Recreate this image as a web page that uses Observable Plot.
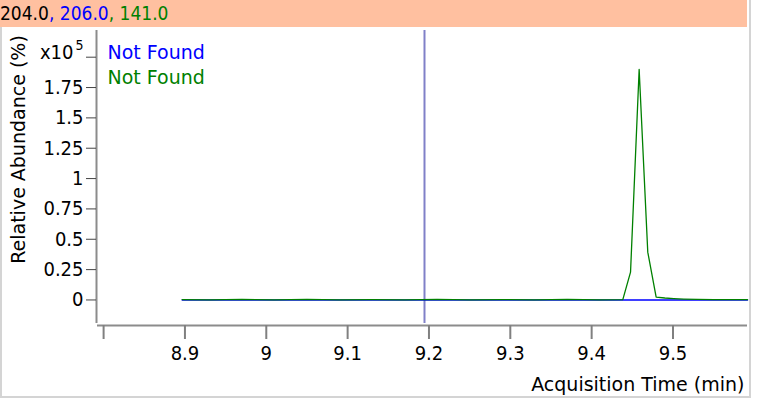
<!DOCTYPE html>
<html>
<head>
<meta charset="utf-8">
<script src="https://cdn.jsdelivr.net/npm/d3@7"></script>
<script src="https://cdn.jsdelivr.net/npm/@observablehq/plot@0.6"></script>
<style>
  body { margin: 0; background: #fff; }
  #wrap { position: relative; width: 759px; height: 399px; overflow: hidden; background: #fff; }
  #border { position: absolute; left: 0; top: 0; width: 747px; height: 396px;
            border-left: 2px solid #d4d4d4; border-right: 2px solid #d4d4d4; border-bottom: 2px solid #d4d4d4; }
  #header { position: absolute; left: 0; top: 0; width: 747px; height: 27px; background: #FFC0A0;
            font-family: 'DejaVu Sans Condensed', 'DejaVu Sans', sans-serif; font-size: 19px; line-height: 27px;
            white-space: pre; z-index: 2; }
  #chart { position: absolute; left: 0; top: 27px; z-index: 1; }
</style>
</head>
<body>
<div id="wrap">
  <div id="border"></div>
  <div id="header"></div>
  <div id="chart"></div>
</div>
<script>
// ---- data ----
const headerParts = ["204.0", ", 206.0", ", 141.0"];
const headerColors = ["#000000", "#0000ff", "#008000"];

const legendLabels = ["Not Found", "Not Found"];
const seriesColors = ["#0000ff", "#008000"];

// blue trace (m/z 206.0): flat
const blueTime = [8.8966, 9.05, 9.2, 9.35, 9.5, 9.5916];
const blueAbund = [0, 0, 0, 0, 0, 0];   // x10^5

// green trace (m/z 141.0)
const greenTime = [8.8966, 8.93, 8.97, 9.01, 9.05, 9.09, 9.13, 9.17, 9.21, 9.25, 9.29, 9.33, 9.37, 9.41, 9.4383,
                   9.4478, 9.4584, 9.4690, 9.4793, 9.4900, 9.5010, 9.5133, 9.53, 9.55, 9.57, 9.5916];
const greenAbund = [0.003, 0.0, 0.004, 0.001, 0.004, 0.0, 0.003, 0.001, 0.004, 0.0, 0.003, 0.001, 0.004, 0.001, 0.003,
                    0.229, 1.899, 0.394, 0.023, 0.016, 0.011, 0.007, 0.004, 0.002, 0.003, 0.002];

const markerTime = [9.1945];

const xTicks = [8.8, 8.9, 9.0, 9.1, 9.2, 9.3, 9.4, 9.5];
const yTicks = [0, 0.25, 0.5, 0.75, 1, 1.25, 1.5, 1.75, 2];
const exponentBase = "x10";
const exponentPower = "5";
const xLabel = "Acquisition Time (min)";
const yLabel = "Relative Abundance (%)";

const xDomain = [8.7925, 9.5916];
const yDomain = [-0.194, 2.22];

// ---- header ----
const header = document.getElementById("header");
headerParts.forEach((t, i) => {
  const s = document.createElement("span");
  s.textContent = t;
  s.style.color = headerColors[i];
  header.appendChild(s);
});

const blue = blueTime.map((t, i) => ({t, v: blueAbund[i]}));
const green = greenTime.map((t, i) => ({t, v: greenAbund[i]}));

const wordFont = "DejaVu Sans";
const numFont = "DejaVu Sans Condensed";

const chart = Plot.plot({
  width: 759,
  height: 372,
  marginLeft: 97,
  marginRight: 12,
  marginTop: 3,
  marginBottom: 76,
  x: {domain: xDomain},
  y: {domain: yDomain},
  style: {fontFamily: numFont, fontSize: "20px", background: "transparent", color: "#000", overflow: "visible"},
  marks: [
    Plot.ruleX(markerTime, {x: d => d, stroke: "#8080c8", strokeWidth: 2}),
    Plot.line(blue, {x: "t", y: "v", stroke: seriesColors[0], strokeWidth: 1.5}),
    Plot.line(green, {x: "t", y: "v", stroke: seriesColors[1], strokeWidth: 1.3}),
    // axis lines
    Plot.ruleX([xDomain[0]], {stroke: "#8c8c8c", strokeWidth: 2, dx: -1}),
    Plot.ruleY([yDomain[0]], {stroke: "#8c8c8c", strokeWidth: 2, dy: 2}),
    Plot.axisY(yTicks, {anchor: "left", tickSize: 10, tickPadding: 3, dx: -1, stroke: "#444", fill: "#000",
      tickFormat: d => d === 2 ? "" : String(d), label: null, fontFamily: numFont, fontSize: 20}),
    Plot.text([2], {y: d => d, frameAnchor: "left", dx: -24, dy: 2, textAnchor: "end", lineAnchor: "bottom",
      text: () => exponentBase, fill: "#000", fontFamily: numFont, fontSize: 20, className: "expo"}),
    Plot.text([2], {y: d => d, frameAnchor: "left", dx: -14, dy: -7, textAnchor: "end", lineAnchor: "bottom",
      text: () => exponentPower, fill: "#000", fontFamily: numFont, fontSize: 14}),
    Plot.axisX(xTicks, {anchor: "bottom", tickSize: 14, tickPadding: 6, dy: 2, stroke: "#808080", strokeWidth: 2,
      fill: "#000", tickFormat: d => Math.abs(d - 8.8) < 1e-9 ? "" : String(+d.toFixed(1)), label: null,
      fontFamily: numFont, fontSize: 20}),
    Plot.text([yLabel], {text: d => d, frameAnchor: "left", rotate: -90, dx: -79, dy: -27.5,
      textAnchor: "middle", lineAnchor: "middle", fontFamily: wordFont, fontSize: 19, fill: "#000"}),
    Plot.text([xLabel], {text: d => d, frameAnchor: "bottom-right", textAnchor: "end", lineAnchor: "middle",
      dx: -3, dy: 61, fontFamily: wordFont, fontSize: 19, fill: "#000"}),
    Plot.text([legendLabels[0]], {text: d => d, frameAnchor: "top-left", textAnchor: "start", lineAnchor: "middle",
      dx: 10, dy: 22, fontFamily: wordFont, fontSize: 19, fill: seriesColors[0]}),
    Plot.text([legendLabels[1]], {text: d => d, frameAnchor: "top-left", textAnchor: "start", lineAnchor: "middle",
      dx: 10, dy: 47, fontFamily: wordFont, fontSize: 19, fill: seriesColors[1]})
  ]
});
document.getElementById("chart").appendChild(chart);
</script>
</body>
</html>
